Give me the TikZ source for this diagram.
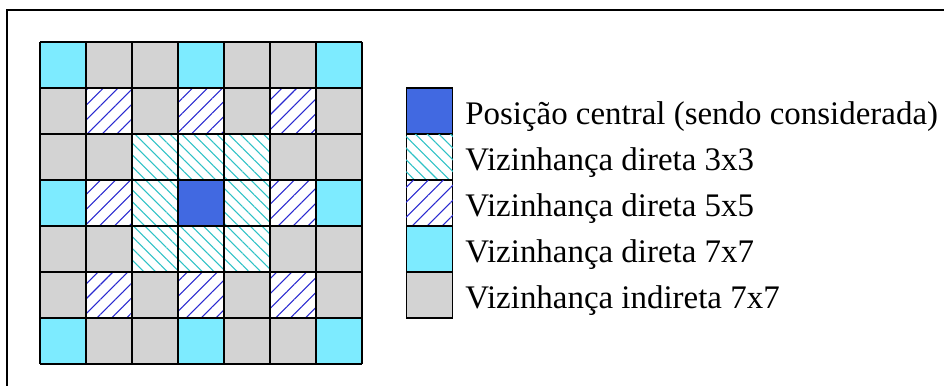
\documentclass[tikz,border=0pt]{standalone}
\usepackage{fontspec}
\setmainfont{Liberation Serif}
\usetikzlibrary{patterns.meta}
\definecolor{cyanfill}{HTML}{7DEBFF}
\definecolor{grayfill}{HTML}{D3D3D3}
\definecolor{centerblue}{HTML}{4169E1}
\definecolor{hatchblue}{HTML}{2A2AD0}
\definecolor{hatchteal}{HTML}{2EC2C6}
\begin{document}
\begin{tikzpicture}[x=0.75pt,y=-0.75pt,
  gridline/.style={line width=0.95pt,draw=black},
  bluehatch/.style={fill=white,postaction={pattern={Lines[angle=45,distance=7.9pt,line width=0.8pt]},pattern color=hatchblue}},
  tealhatch/.style={fill=white,postaction={pattern={Lines[angle=-45,distance=6.2pt,line width=0.8pt]},pattern color=hatchteal}},
  legbox/.style={draw=black,line width=0.95pt,minimum width=35pt,minimum height=34.5pt,inner sep=0pt,outer sep=0pt},
  legtext/.style={anchor=base west,inner sep=0pt,font=\fontsize{24.7}{30}\selectfont}]
\useasboundingbox (0,0) rectangle (944,385);
% outer frame (left and top edges visible)
\draw[line width=0.8pt] (7,400) -- (7,10) -- (960,10);
% cells
\def\cs{46}
\def\gx{40}
\def\gy{42}
\foreach \r in {0,...,6}{
  \foreach \c in {0,...,6}{
    \fill[grayfill] ({\gx+\c*\cs},{\gy+\r*\cs}) rectangle ++(\cs,\cs);
  }
}
% 7x7 direct
\foreach \r/\c in {0/0,0/3,0/6,3/0,3/6,6/0,6/3,6/6}{
  \fill[cyanfill] ({\gx+\c*\cs},{\gy+\r*\cs}) rectangle ++(\cs,\cs);
}
% 5x5 direct
\foreach \r/\c in {1/1,1/3,1/5,3/1,3/5,5/1,5/3,5/5}{
  \path[bluehatch] ({\gx+\c*\cs},{\gy+\r*\cs}) rectangle ++(\cs,\cs);
}
% 3x3 direct
\foreach \r/\c in {2/2,2/3,2/4,3/2,3/4,4/2,4/3,4/4}{
  \path[tealhatch] ({\gx+\c*\cs},{\gy+\r*\cs}) rectangle ++(\cs,\cs);
}
% center
\fill[centerblue] ({\gx+3*\cs},{\gy+3*\cs}) rectangle ++(\cs,\cs);
% grid lines
\foreach \i in {0,...,7}{
  \draw[gridline] ({\gx+\i*\cs},\gy) -- ({\gx+\i*\cs},{\gy+7*\cs});
  \draw[gridline] (\gx,{\gy+\i*\cs}) -- ({\gx+7*\cs},{\gy+\i*\cs});
}
% legend
\node[legbox,fill=centerblue] (l1) at (429.5,111) {};
\node[legbox,tealhatch] (l2) at (429.5,157) {};
\node[legbox,bluehatch] (l3) at (429.5,203) {};
\node[legbox,fill=cyanfill] (l4) at (429.5,249) {};
\node[legbox,fill=grayfill] (l5) at (429.5,295) {};
\node[legtext] (t1) at (465,124.5) {Posição central (sendo considerada)};
\node[legtext] (t2) at (465,170.5) {Vizinhança direta 3x3};
\node[legtext] (t3) at (465,216.5) {Vizinhança direta 5x5};
\node[legtext] (t4) at (465,262.5) {Vizinhança direta 7x7};
\node[legtext] (t5) at (465,308.5) {Vizinhança indireta 7x7};
\end{tikzpicture}
\end{document}
